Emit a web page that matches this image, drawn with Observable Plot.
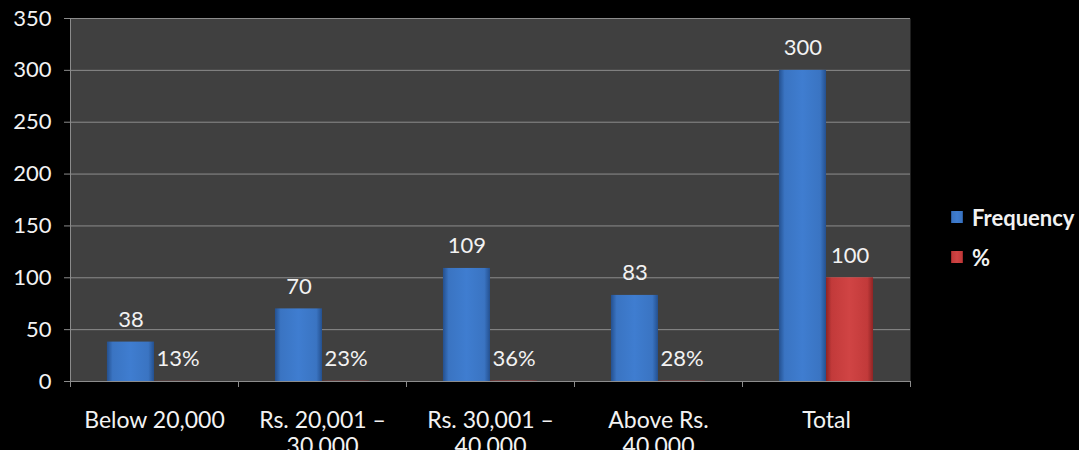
<!DOCTYPE html>
<html>
<head>
<meta charset="utf-8">
<script src="https://cdn.jsdelivr.net/npm/d3@7"></script>
<script src="https://cdn.jsdelivr.net/npm/@observablehq/plot@0.6"></script>
<style>
  html, body { margin: 0; padding: 0; background: #000; }
  #wrap { position: relative; width: 1079px; height: 450px; overflow: hidden; background: #000; }
  #legend { position: absolute; left: 951px; top: 206px; font-family: Lato, "Open Sans", sans-serif; font-weight: bold; font-size: 22px; color: #f2f2f2; }
  #legend .item { display: flex; align-items: center; height: 22px; margin-bottom: 18px; }
  #legend .sw { width: 12px; height: 12px; margin-right: 9px; }
</style>
</head>
<body>
<div id="wrap">
  <div id="chart"></div>
  <div id="legend"></div>
</div>
<script>
// ---- data ----
const categories = ["Below 20,000", "Rs. 20,001 –\n30,000", "Rs. 30,001 –\n40,000", "Above Rs.\n40,000", "Total"];
const frequency = [38, 70, 109, 83, 300];
const percent = [0.13, 0.23, 0.36, 0.28, 100];
const percentLabels = ["13%", "23%", "36%", "28%", "100"];
const seriesNames = ["Frequency", "%"];
const yTicks = [0, 50, 100, 150, 200, 250, 300, 350];

// ---- layout / styles ----
const groupStart = 0.22, barW = 0.28;
const gridColor = "#8c8c8c";
const textColor = "#f2f2f2";
const font = "Lato, 'Open Sans', sans-serif";

const rows = [];
categories.forEach((c, i) => {
  rows.push({i, series: "Frequency", value: frequency[i], label: String(frequency[i])});
  rows.push({i, series: "%", value: percent[i], label: percentLabels[i]});
});
const sIndex = s => seriesNames.indexOf(s);
const x1 = d => d.i + groupStart + sIndex(d.series) * barW;
const x2 = d => d.i + groupStart + (sIndex(d.series) + 1) * barW;
const xc = d => d.i + groupStart + (sIndex(d.series) + 0.5) * barW;

const boundaries = d3.range(0, categories.length + 1);
const centers = categories.map((c, i) => i + 0.5);

const plot = Plot.plot({
  width: 1079,
  height: 450,
  marginLeft: 70,
  marginRight: 169,
  marginTop: 18,
  marginBottom: 69,
  style: {background: "#000", color: textColor, fontFamily: font, fontSize: "22px", overflow: "visible"},
  x: {domain: [0, categories.length], axis: null, label: null},
  y: {domain: [0, 350], axis: null, label: null},
  marks: [
    Plot.frame({fill: "#404040", stroke: null}),
    Plot.gridY(yTicks, {stroke: gridColor, strokeOpacity: 1, strokeWidth: 1}),
    Plot.ruleX([0], {stroke: gridColor, insetBottom: -6}),
    Plot.axisX(boundaries, {tickSize: 6, tickFormat: () => "", stroke: gridColor, label: null}),
    Plot.axisX(centers, {
      tickSize: 0, tickPadding: 29,
      tickFormat: d => categories[Math.round(d - 0.5)],
      fontSize: 23, lineHeight: 1.1, fill: textColor, label: null
    }),
    Plot.axisY(yTicks, {tickSize: 6, tickPadding: 13, stroke: gridColor, fill: textColor, fontSize: 22, label: null}),
    Plot.rectY(rows, {x1, x2, y: "value", fill: d => d.series == "Frequency" ? "url(#gBlue)" : "url(#gRed)"}),
    Plot.text(rows, {x: xc, y: "value", text: "label", dy: -22, fill: textColor, fontSize: 22})
  ]
});

// gradients for the bevelled bar look
const defs = d3.select(plot).insert("defs", ":first-child");
function grad(id, dark, mid, light) {
  const g = defs.append("linearGradient").attr("id", id).attr("x1", 0).attr("x2", 1).attr("y1", 0).attr("y2", 0);
  g.append("stop").attr("offset", "0").attr("stop-color", dark);
  g.append("stop").attr("offset", "0.12").attr("stop-color", mid);
  g.append("stop").attr("offset", "0.5").attr("stop-color", light);
  g.append("stop").attr("offset", "0.88").attr("stop-color", mid);
  g.append("stop").attr("offset", "1").attr("stop-color", dark);
}
grad("gBlue", "#24508f", "#3a74c2", "#3f7dd0");
grad("gRed", "#8f2424", "#c23a3a", "#d04444");

document.getElementById("chart").appendChild(plot);

// legend
const legend = d3.select("#legend");
const swatchFill = {"Frequency": "url(#gBlue)", "%": "url(#gRed)"};
seriesNames.forEach(s => {
  const item = legend.append("div").attr("class", "item");
  const sw = item.append("svg").attr("class", "sw").attr("width", 12).attr("height", 12);
  sw.append("rect").attr("width", 12).attr("height", 12).attr("fill", swatchFill[s]);
  item.append("span").text(s);
});
</script>
</body>
</html>
